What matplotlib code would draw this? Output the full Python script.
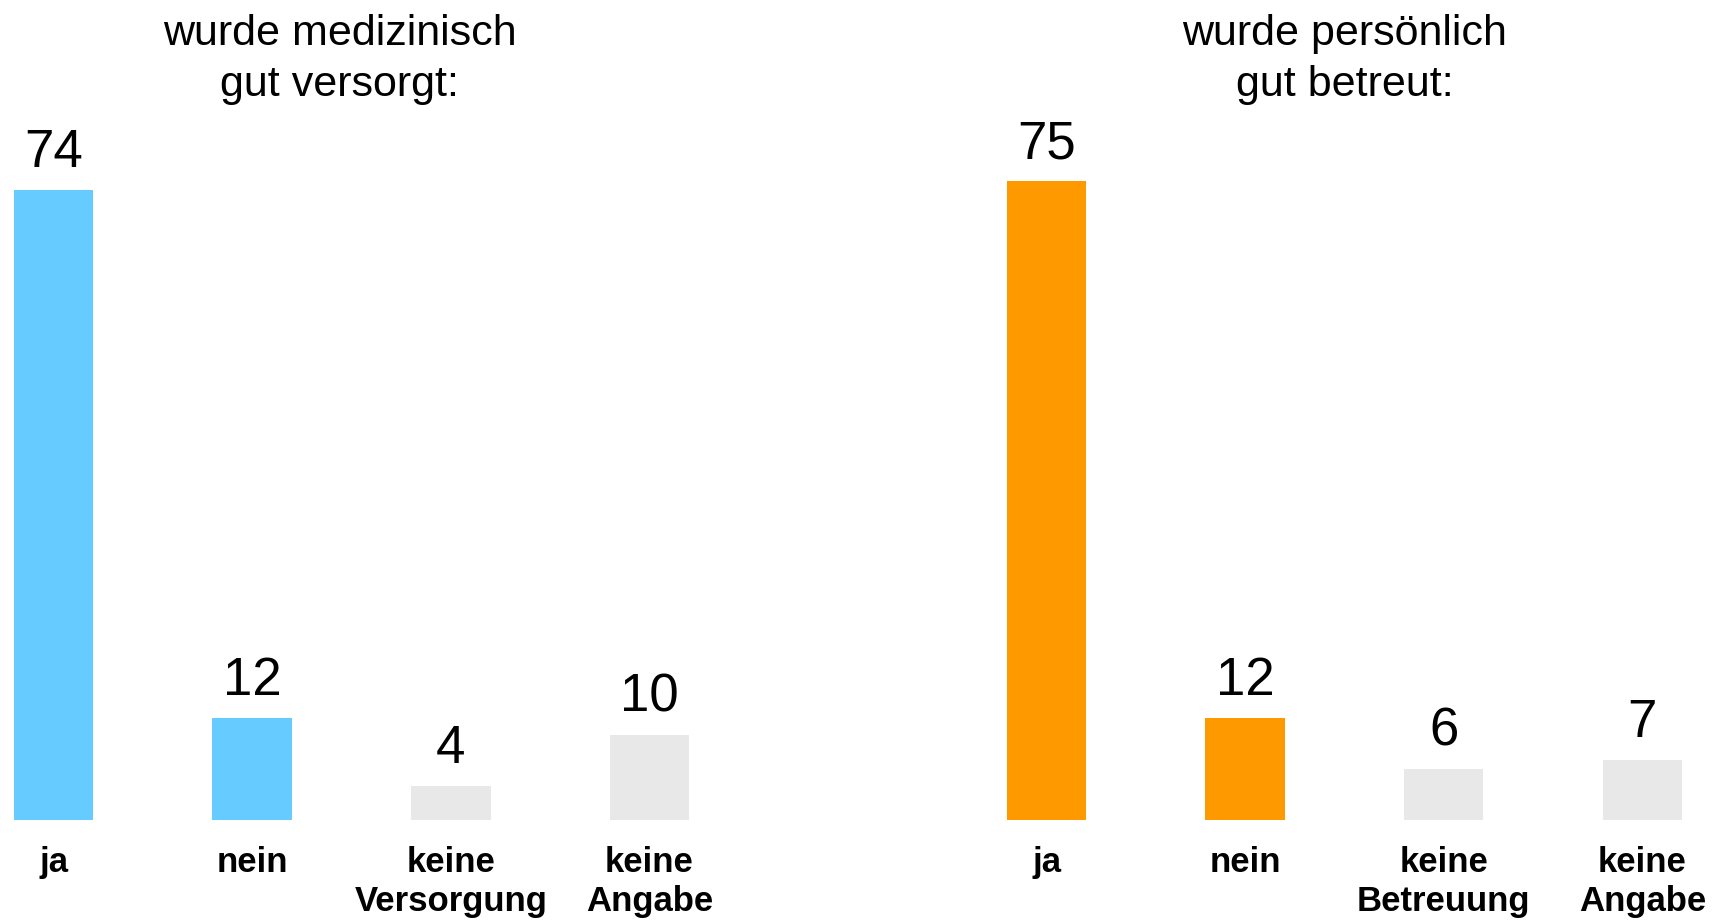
import matplotlib
matplotlib.use("Agg")
import matplotlib.pyplot as plt
from matplotlib.transforms import blended_transform_factory

plt.rcParams['font.family'] = ['Liberation Sans', 'DejaVu Sans']

# Data
titles = ["wurde medizinisch\ngut versorgt:", "wurde persönlich\ngut betreut:"]
cats_left = ["ja", "nein", "keine\nVersorgung", "keine\nAngabe"]
cats_right = ["ja", "nein", "keine\nBetreuung", "keine\nAngabe"]
vals_left = [74, 12, 4, 10]
vals_right = [75, 12, 6, 7]

blue = "#66CCFF"
orange = "#FF9900"
grey = "#E8E8E8"
cols_left = [blue, blue, grey, grey]
cols_right = [orange, orange, grey, grey]

pos_left = [0, 1, 2, 3]
pos_right = [5, 6, 7, 8]

W, H = 1715, 921
fig = plt.figure(figsize=(W / 100, H / 100), dpi=100)
base_px = 820
ax = fig.add_axes([0, (H - base_px) / H, 1, base_px / H])
ax.set_xlim(-0.27, 8.366)
ax.set_ylim(0, base_px / 8.52)
ax.axis("off")

for pos, vals, cols, cats in [(pos_left, vals_left, cols_left, cats_left),
                              (pos_right, vals_right, cols_right, cats_right)]:
    ax.bar(pos, vals, width=0.40, color=cols, edgecolor="none")
    for x, v, c in zip(pos, vals, cats):
        ax.annotate(str(v), (x, v), xytext=(0, 16.5), textcoords="offset points",
                    ha="center", va="baseline", fontsize=38, color="black")
        ax.annotate(c, (x, 0), xytext=(0, -19), textcoords="offset points",
                    ha="center", va="top", fontsize=25, fontweight="bold",
                    color="black", linespacing=1.2, annotation_clip=False)

tr = blended_transform_factory(ax.transData, fig.transFigure)
ax.text(1.44, 1 - 14 / H, titles[0], transform=tr, ha="center", va="top",
        fontsize=31, linespacing=1.36)
ax.text(6.5, 1 - 14 / H, titles[1], transform=tr, ha="center", va="top",
        fontsize=31, linespacing=1.36)

fig.savefig("out.png", dpi=100)
